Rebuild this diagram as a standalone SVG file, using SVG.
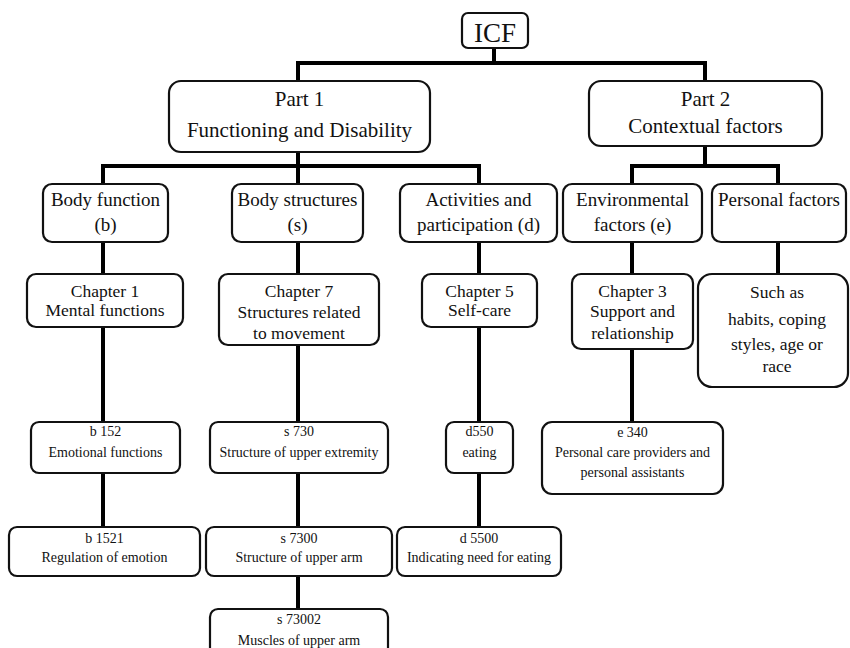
<svg xmlns="http://www.w3.org/2000/svg" width="850" height="648" viewBox="0 0 850 648">
<style>
.b{fill:#fff;stroke:#111;stroke-width:2.2}
.c{fill:none;stroke:#000;stroke-width:4}
text{font-family:"Liberation Serif","Times New Roman",serif;fill:#111;text-anchor:middle}
.t0{font-size:27px}
.t1{font-size:21px}
.t2{font-size:19px}
.t3{font-size:17.5px}
.t4{font-size:14px}
</style>
<rect width="850" height="648" fill="#fff"/>
<g id="connectors">
<path class="c" d="M494 48V63M298 81V63H705V81"/>
<path class="c" d="M298 152V166M103 184V166H479V184M298 166V184"/>
<path class="c" d="M705 146V166M632 184V166H778V184"/>
<path class="c" d="M103 242V274M298 242V274M479 242V274M632 242V274M778 242V274"/>
<path class="c" d="M103 327V422M298 345V422M479 327V422M632 349V422"/>
<path class="c" d="M103 473V527M298 473V527M479 473V527M298 576V609"/>
</g>
<g id="icf"><rect class="b" x="462" y="13" width="66" height="35" rx="6"/><text class="t0" x="495" y="42">ICF</text></g>
<g id="part1"><rect class="b" x="169" y="81" width="261" height="71" rx="12"/><text class="t1" x="299.5" y="106">Part 1</text><text class="t1" x="299.5" y="137">Functioning and Disability</text></g>
<g id="part2"><rect class="b" x="589" y="81" width="233" height="65" rx="12"/><text class="t1" x="705.5" y="106">Part 2</text><text class="t1" x="705.5" y="133">Contextual factors</text></g>
<g id="bodyfunction"><rect class="b" x="43" y="184" width="125" height="58" rx="9"/><text class="t2" x="105.5" y="206">Body function</text><text class="t2" x="105.5" y="231">(b)</text></g>
<g id="bodystructures"><rect class="b" x="232" y="184" width="131" height="58" rx="9"/><text class="t2" x="297.5" y="206">Body structures</text><text class="t2" x="297.5" y="231">(s)</text></g>
<g id="activities"><rect class="b" x="400" y="184" width="157" height="58" rx="9"/><text class="t2" x="478.5" y="206">Activities and</text><text class="t2" x="478.5" y="231">participation (d)</text></g>
<g id="environmental"><rect class="b" x="563" y="184" width="139" height="58" rx="9"/><text class="t2" x="632.5" y="206">Environmental</text><text class="t2" x="632.5" y="231">factors (e)</text></g>
<g id="personal"><rect class="b" x="712" y="184" width="134" height="58" rx="9"/><text class="t2" x="779" y="206">Personal factors</text></g>
<g id="ch1"><rect class="b" x="27" y="274" width="156" height="53" rx="9"/><text class="t3" x="105" y="297">Chapter 1</text><text class="t3" x="105" y="316">Mental functions</text></g>
<g id="ch7"><rect class="b" x="219" y="274" width="160" height="71" rx="9"/><text class="t3" x="299" y="297">Chapter 7</text><text class="t3" x="299" y="318">Structures related</text><text class="t3" x="299" y="339">to movement</text></g>
<g id="ch5"><rect class="b" x="422" y="274" width="115" height="53" rx="9"/><text class="t3" x="479.5" y="297">Chapter 5</text><text class="t3" x="479.5" y="316">Self-care</text></g>
<g id="ch3"><rect class="b" x="572" y="274" width="121" height="75" rx="9"/><text class="t3" x="632.5" y="297">Chapter 3</text><text class="t3" x="632.5" y="317">Support and</text><text class="t3" x="632.5" y="339">relationship</text></g>
<g id="suchas"><rect class="b" x="698" y="274" width="150" height="113" rx="14"/><text class="t3" x="777" y="298">Such as</text><text class="t3" x="777" y="325">habits, coping</text><text class="t3" x="777" y="350">styles, age or</text><text class="t3" x="777" y="372">race</text></g>
<g id="b152"><rect class="b" x="31" y="422" width="149" height="51" rx="8"/><text class="t4" x="105.5" y="436">b 152</text><text class="t4" x="105.5" y="457">Emotional functions</text></g>
<g id="s730"><rect class="b" x="210" y="422" width="178" height="51" rx="8"/><text class="t4" x="299" y="436">s 730</text><text class="t4" x="299" y="457">Structure of upper extremity</text></g>
<g id="d550"><rect class="b" x="446" y="422" width="67" height="51" rx="8"/><text class="t4" x="479.5" y="436">d550</text><text class="t4" x="479.5" y="457">eating</text></g>
<g id="e340"><rect class="b" x="542" y="422" width="181" height="72" rx="10"/><text class="t4" x="632.5" y="437">e 340</text><text class="t4" x="632.5" y="457">Personal care providers and</text><text class="t4" x="632.5" y="477">personal assistants</text></g>
<g id="b1521"><rect class="b" x="9" y="527" width="191" height="49" rx="8"/><text class="t4" x="104.5" y="543">b 1521</text><text class="t4" x="104.5" y="562">Regulation of emotion</text></g>
<g id="s7300"><rect class="b" x="206" y="527" width="186" height="49" rx="8"/><text class="t4" x="299" y="543">s 7300</text><text class="t4" x="299" y="562">Structure of upper arm</text></g>
<g id="d5500"><rect class="b" x="397" y="527" width="164" height="49" rx="8"/><text class="t4" x="479" y="543">d 5500</text><text class="t4" x="479" y="562">Indicating need for eating</text></g>
<g id="s73002"><rect class="b" x="210" y="609" width="178" height="52" rx="8"/><text class="t4" x="299" y="624">s 73002</text><text class="t4" x="299" y="645">Muscles of upper arm</text></g>
</svg>
